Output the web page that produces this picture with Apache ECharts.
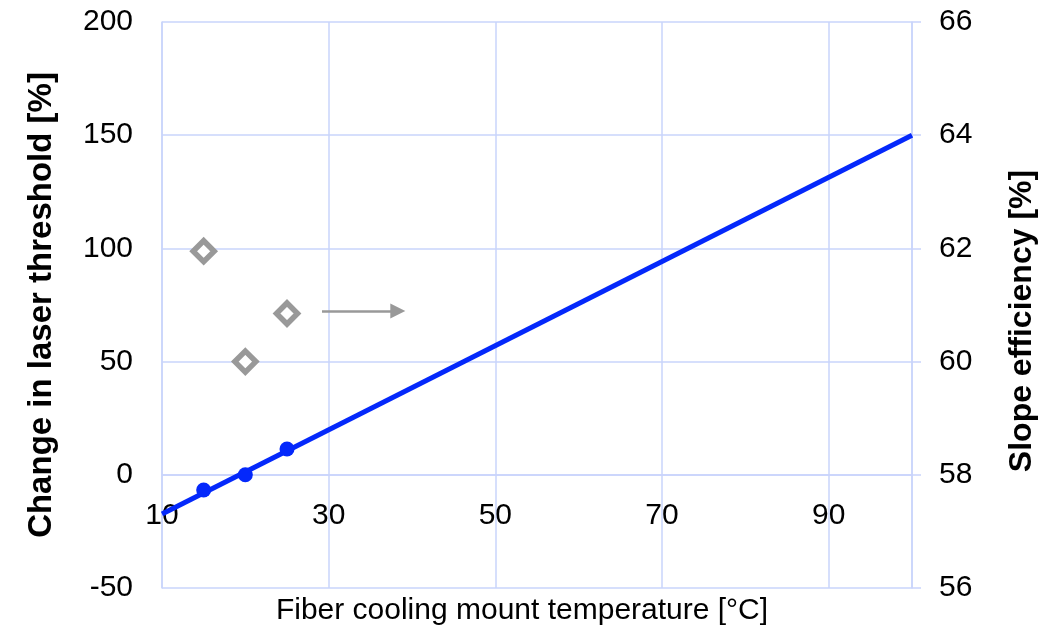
<!DOCTYPE html>
<html>
<head>
<meta charset="utf-8">
<script src="https://cdn.jsdelivr.net/npm/echarts@6/dist/echarts.min.js"></script>
<style>
  html, body { margin: 0; padding: 0; background: #fff; }
  #main { width: 1048px; height: 631px; }
</style>
</head>
<body>
<div id="main"></div>
<script>
// measured points
const temps = [15, 20, 25];
const thresholdChange = [-6.7, 0, 11.4];
const slopeEff = [61.95, 60.0, 60.85];

// linear trend line end points
const trendX = [10, 100];
const trendY = [-17.3, 150];

// arrow pointing to the right axis
const arrowFrom = [29.2, 72.4];
const arrowTo = [38.3, 72.4];

// left axis range
const yMin = -50, yMax = 200;

const gridColor = '#c9d4fb';
const blue = '#0428fb';
const font = "'Liberation Sans', Arial, sans-serif";

const gridTop = 22, gridBottom = 43;
const plotH = 631 - gridTop - gridBottom;
// x axis crosses at y = 0, like the original (onZero does not apply here)
const xOffset = -plotH * (0 - yMin) / (yMax - yMin);

const chartDom = document.getElementById('main');
const myChart = echarts.init(chartDom);

const option = {
  animation: false,
  textStyle: { fontFamily: font },
  grid: { left: 162, right: 136, top: gridTop, bottom: gridBottom, containLabel: false, outerBoundsMode: 'none' },
  xAxis: {
    type: 'value',
    min: 10,
    max: 100,
    interval: 20,
    offset: xOffset,
    name: 'Fiber cooling mount temperature [°C]',
    nameLocation: 'middle',
    nameGap: 121,
    nameTextStyle: { fontSize: 30, color: '#000', fontFamily: font, padding: [0, 30, 0, 0] },
    axisLine: { onZero: false, lineStyle: { color: gridColor, width: 1.5 } },
    axisTick: { show: false },
    axisLabel: { fontSize: 30, color: '#000', margin: 26, showMaxLabel: false, fontFamily: font },
    splitLine: { lineStyle: { color: gridColor, width: 1.5 } }
  },
  yAxis: [
    {
      type: 'value',
      min: yMin,
      max: yMax,
      interval: 50,
      name: 'Change in laser threshold [%]',
      nameLocation: 'middle',
      nameGap: 104,
      nameTextStyle: { fontSize: 33, fontWeight: 'bold', color: '#000', fontFamily: font },
      axisLine: { show: true, onZero: false, lineStyle: { color: gridColor, width: 1.5 } },
      axisTick: { show: false },
      axisLabel: { fontSize: 30, color: '#000', margin: 29, fontFamily: font },
      splitLine: { lineStyle: { color: gridColor, width: 1.5 } }
    },
    {
      type: 'value',
      position: 'right',
      min: 56,
      max: 66,
      interval: 2,
      name: 'Slope efficiency [%]',
      nameLocation: 'middle',
      nameGap: 94,
      nameTextStyle: { fontSize: 32, fontWeight: 'bold', color: '#000', fontFamily: font, padding: [0, 32, 0, 0] },
      axisLine: { show: true, onZero: false, lineStyle: { color: gridColor, width: 1.5 } },
      axisTick: { show: true, length: 9, lineStyle: { color: gridColor, width: 1.5 } },
      axisLabel: { fontSize: 30, color: '#000', margin: 27, fontFamily: font },
      splitLine: { show: false }
    }
  ],
  series: [
    {
      name: 'Trend',
      type: 'line',
      yAxisIndex: 0,
      data: trendX.map((x, i) => [x, trendY[i]]),
      showSymbol: false,
      symbol: 'none',
      lineStyle: { color: blue, width: 5 },
      silent: true,
      z: 2,
      markLine: {
        silent: true,
        symbol: ['none', 'triangle'],
        symbolSize: 15,
        label: { show: false },
        lineStyle: { color: '#999', width: 2.5, type: 'solid' },
        data: [[{ coord: arrowFrom }, { coord: arrowTo }]]
      }
    },
    {
      name: 'Threshold',
      type: 'scatter',
      yAxisIndex: 0,
      data: temps.map((t, i) => [t, thresholdChange[i]]),
      symbol: 'circle',
      symbolSize: 15,
      itemStyle: { color: blue, opacity: 1 },
      z: 3
    },
    {
      name: 'Slope efficiency',
      type: 'scatter',
      yAxisIndex: 1,
      data: temps.map((t, i) => [t, slopeEff[i]]),
      symbol: 'diamond',
      symbolSize: 21,
      itemStyle: { color: '#fff', borderColor: '#999', borderWidth: 5.5, opacity: 1 },
      z: 3
    }
  ]
};

option && myChart.setOption(option);
</script>
</body>
</html>
